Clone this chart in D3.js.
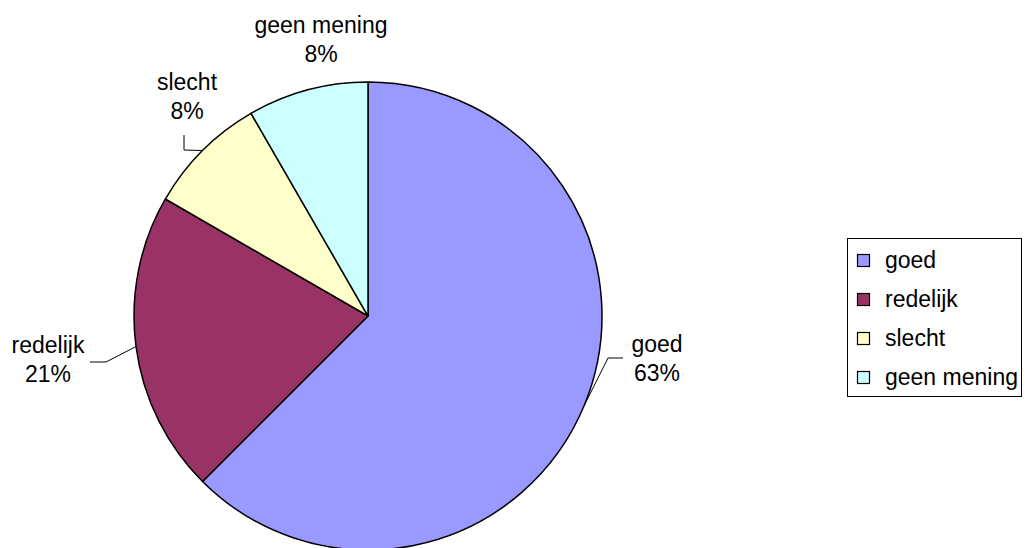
<!DOCTYPE html>
<html>
<head>
<meta charset="utf-8">
<script src="https://cdn.jsdelivr.net/npm/d3@7"></script>
<style>
  html, body { margin: 0; padding: 0; background: #fff; }
  svg { display: block; }
  text { font-family: "Liberation Sans", Arial, sans-serif; fill: #000; }
</style>
</head>
<body>
<svg id="chart" width="1033" height="548"></svg>
<script>
// Data
const categories = ["goed", "redelijk", "slecht", "geen mening"];
const values = [15, 5, 2, 2];
const percentLabels = ["63%", "21%", "8%", "8%"];
const colors = ["#9999FF", "#993366", "#FFFFCC", "#CCFFFF"];

// Layout (style)
const W = 1033, H = 548;
const cx = 368, cy = 316, R = 234;
const fontSize = 23;
// label placement relative to pie centre: [text centre dx, first baseline dy], leader elbow, leader end
const labelStyle = [
  { dx: 289, dy: 36, lines: [[240, 42], [255, 42]] },
  { dx: -320, dy: 37, lines: [[-262, 46], [-278, 46]] },
  { dx: -181, dy: -226, lines: [[-184, -166], [-184, -181]] },
  { dx: -47, dy: -283, lines: null }
];

const svg = d3.select("#chart");
const g = svg.append("g").attr("transform", `translate(${cx},${cy})`);

const pie = d3.pie().value(d => d).sort(null);
const arcs = pie(values);
const arc = d3.arc().innerRadius(0).outerRadius(R);

g.selectAll("path.slice")
  .data(arcs)
  .join("path")
  .attr("class", "slice")
  .attr("d", arc)
  .attr("fill", (d, i) => colors[i])
  .attr("stroke", "#000")
  .attr("stroke-width", 1.5)
  .attr("stroke-linejoin", "round");

// leader lines
arcs.forEach((a, i) => {
  const s = labelStyle[i];
  if (!s.lines) return;
  const mid = (a.startAngle + a.endAngle) / 2;
  const p0 = [Math.sin(mid) * R, -Math.cos(mid) * R];
  const pts = [p0].concat(s.lines);
  g.append("path")
    .attr("d", d3.line()(pts))
    .attr("fill", "none")
    .attr("stroke", "#000")
    .attr("stroke-width", 1);
});

// labels
arcs.forEach((a, i) => {
  const s = labelStyle[i];
  const t = g.append("text")
    .attr("text-anchor", "middle")
    .attr("font-size", fontSize);
  t.append("tspan").attr("x", s.dx).attr("y", s.dy).text(categories[i]);
  t.append("tspan").attr("x", s.dx).attr("y", s.dy + 29).text(percentLabels[i]);
});

// legend
const lg = svg.append("g").attr("transform", "translate(847,238)");
lg.append("rect")
  .attr("x", 0.5).attr("y", 0.5)
  .attr("width", 174).attr("height", 158)
  .attr("fill", "#fff").attr("stroke", "#000").attr("stroke-width", 1);
const ly = d3.scalePoint().domain(categories).range([23, 140]);
categories.forEach((c, i) => {
  lg.append("rect")
    .attr("x", 10.5).attr("y", ly(c) - 6.5)
    .attr("width", 12).attr("height", 12)
    .attr("fill", colors[i]).attr("stroke", "#000").attr("stroke-width", 1.2);
  lg.append("text")
    .attr("x", 38).attr("y", ly(c) + 7)
    .attr("font-size", fontSize)
    .text(c);
});
</script>
</body>
</html>
